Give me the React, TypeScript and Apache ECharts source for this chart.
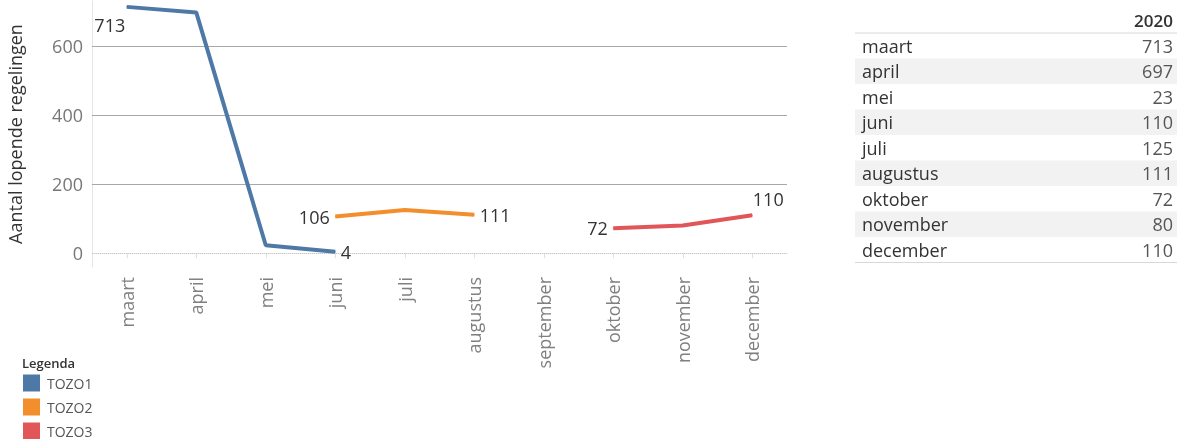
import React, { useEffect, useRef } from "react";
import * as echarts from "echarts";

const categories = ["maart", "april", "mei", "juni", "juli", "augustus", "september", "oktober", "november", "december"];
const tozo1: (number | null)[] = [713, 697, 23, 4, null, null, null, null, null, null];
const tozo2: (number | null)[] = [null, null, null, 106, 125, 111, null, null, null, null];
const tozo3: (number | null)[] = [null, null, null, null, null, null, null, 72, 80, 110];
const seriesNames = ["TOZO1", "TOZO2", "TOZO3"];
const yTicks = [0, 200, 400, 600];
const tableHeader = "2020";
const tableMonths = ["maart", "april", "mei", "juni", "juli", "augustus", "oktober", "november", "december"];
const tableValues = [713, 697, 23, 110, 125, 111, 72, 80, 110];

const FONT = "'Open Sans', 'Noto Sans', sans-serif";
const colors = ["#4e79a7", "#f28e2b", "#e15759"];

export default function App() {
  const ref = useRef<HTMLDivElement>(null);
  useEffect(() => {
    if (!ref.current) return;
    const chart = echarts.init(ref.current, undefined, { renderer: "svg" });

    const labelStyle = { fontFamily: FONT, fontSize: 18, color: "#333" };
    const placements: Record<string, Record<number, any>> = {
      TOZO1: { 0: { position: "left", offset: [4, 18] }, 3: { position: "right" } },
      TOZO2: { 3: { position: "left" }, 5: { position: "right" } },
      TOZO3: { 7: { position: "left" }, 9: { position: "top", offset: [16, -2] } },
    };
    const build = (name: string, vals: (number | null)[]) =>
      vals.map((v, i) => {
        if (v == null) return "-";
        const p = placements[name][i];
        return {
          value: v,
          label: p ? { show: true, ...labelStyle, distance: 5, ...p } : { show: false },
        };
      });
    const allVals = [tozo1, tozo2, tozo3];

    const series: any[] = seriesNames.map((name, k) => ({
      name,
      type: "line",
      data: build(name, allVals[k]),
      symbol: "circle",
      symbolSize: 1,
      showSymbol: true,
      itemStyle: { color: colors[k] },
      lineStyle: { color: colors[k], width: 4 },
      connectNulls: false,
      z: 3,
    }));
    series[0].markLine = {
      silent: true,
      symbol: "none",
      label: { show: false },
      data: yTicks.map((t) => ({
        yAxis: t,
        lineStyle:
          t === 0
            ? { color: "#c8c8c8", width: 1, type: "dotted" }
            : { color: "#a8a8a8", width: 1, type: "solid" },
      })),
      z: 1,
    };

    const rowH = 25.5;
    const tTop = 33;
    const tLeft = 855;
    const tRight = 1177;
    const els: any[] = [];
    tableMonths.forEach((m, i) => {
      const y = tTop + i * rowH;
      if (i % 2 === 1) {
        els.push({
          type: "rect",
          shape: { x: tLeft, y, width: tRight - tLeft, height: rowH },
          style: { fill: "#f2f2f2" },
          silent: true,
        });
      }
      els.push({
        type: "text",
        x: 862,
        y: y + rowH / 2,
        style: { text: m, font: `18px ${FONT}`, fill: "#333", textAlign: "left", textVerticalAlign: "middle" },
      });
      els.push({
        type: "text",
        x: 1173,
        y: y + rowH / 2,
        style: { text: String(tableValues[i]), font: `18px ${FONT}`, fill: "#555", textAlign: "right", textVerticalAlign: "middle" },
      });
    });
    els.push({
      type: "text",
      x: 1173,
      y: 20,
      style: { text: tableHeader, font: `600 17px ${FONT}`, fill: "#333", textAlign: "right", textVerticalAlign: "middle" },
    });
    els.push({
      type: "line",
      shape: { x1: tLeft, y1: tTop, x2: tRight, y2: tTop },
      style: { stroke: "#d8d8d8", lineWidth: 1 },
    });
    els.push({
      type: "line",
      shape: { x1: tLeft, y1: tTop + tableMonths.length * rowH, x2: tRight, y2: tTop + tableMonths.length * rowH },
      style: { stroke: "#d8d8d8", lineWidth: 1 },
    });
    // legend
    els.push({
      type: "text",
      x: 22,
      y: 363,
      style: { text: "Legenda", font: `600 13px ${FONT}`, fill: "#333", textAlign: "left", textVerticalAlign: "middle" },
    });
    seriesNames.forEach((n, k) => {
      const cy = 383 + k * 24;
      els.push({
        type: "rect",
        shape: { x: 23, y: cy - 8.5, width: 17, height: 17 },
        style: { fill: colors[k] },
      });
      els.push({
        type: "text",
        x: 47,
        y: cy,
        style: { text: n, font: `14px ${FONT}`, fill: "#555", textAlign: "left", textVerticalAlign: "middle" },
      });
    });

    chart.setOption({
      animation: false,
      grid: { left: 92, right: 390, top: 1, height: 266, containLabel: false, outerBoundsMode: "none" },
      xAxis: {
        type: "category",
        data: categories,
        boundaryGap: true,
        axisLine: { show: true, lineStyle: { color: "#e6e6e6", width: 1 } },
        axisTick: { show: true, alignWithLabel: true, length: 5, lineStyle: { color: "#e0e0e0" } },
        axisLabel: { rotate: 90, margin: 10, fontFamily: FONT, fontSize: 18, color: "#808080", interval: 0 },
        splitLine: { show: false },
      },
      yAxis: {
        type: "value",
        min: -40,
        max: 730,
        name: "Aantal lopende regelingen",
        nameLocation: "middle",
        nameGap: 68,
        nameTextStyle: { fontFamily: FONT, fontSize: 18, color: "#333" },
        axisLine: { show: true, lineStyle: { color: "#e6e6e6", width: 1 } },
        axisTick: { show: false },
        splitLine: { show: false },
        axisLabel: { customValues: yTicks, margin: 9, fontFamily: FONT, fontSize: 18, color: "#777" },
      },
      graphic: els,
      series,
    });
    return () => chart.dispose();
  }, []);
  return <div ref={ref} style={{ position: "fixed", left: 0, top: 0, width: 1177, height: 439 }} />;
}
